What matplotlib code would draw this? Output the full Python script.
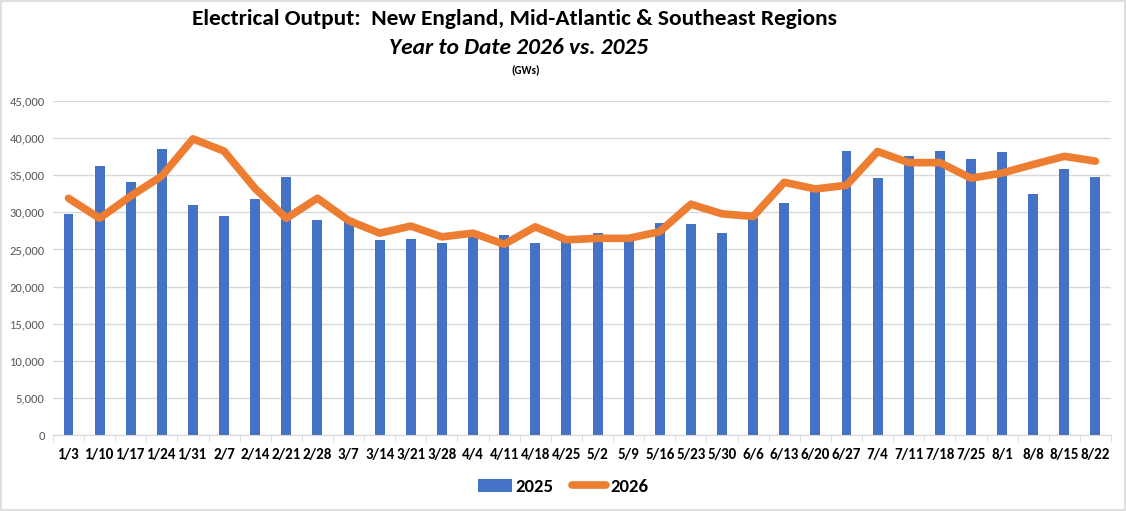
import matplotlib
matplotlib.use("Agg")
import matplotlib.pyplot as plt
from matplotlib.ticker import FuncFormatter, MultipleLocator
from matplotlib.patches import Rectangle
from matplotlib import font_manager
import numpy as np

weeks = ["1/3", "1/10", "1/17", "1/24", "1/31", "2/7", "2/14", "2/21", "2/28", "3/7",
         "3/14", "3/21", "3/28", "4/4", "4/11", "4/18", "4/25", "5/2", "5/9", "5/16",
         "5/23", "5/30", "6/6", "6/13", "6/20", "6/27", "7/4", "7/11", "7/18", "7/25",
         "8/1", "8/8", "8/15", "8/22"]

output_2025 = [29800, 36250, 34100, 38550, 31000, 29500, 31800, 34750, 28950, 29250,
               26300, 26400, 25900, 26700, 26950, 25900, 26200, 27200, 26400, 28550,
               28450, 27200, 29300, 31250, 33000, 38250, 34650, 37600, 38250, 37200,
               38150, 32450, 35850, 34750]

output_2026 = [31900, 29200, 32200, 34900, 39900, 38250, 33200, 29200, 31900, 28900,
               27200, 28150, 26700, 27200, 25700, 28050, 26300, 26500, 26500, 27400,
               31100, 29800, 29450, 34050, 33150, 33650, 38200, 36700, 36700, 34600,
               35300, 36450, 37550, 36900]

# pick a narrow, Calibri-like face if one is installed
names = {f.name for f in font_manager.fontManager.ttflist}
narrow = None
for cand in ["Carlito", "Liberation Sans Narrow", "Roboto Condensed",
             "Open Sans Condensed", "DejaVu Sans Condensed"]:
    if cand in names:
        narrow = cand
        break
if narrow is None:
    narrow = "Lato" if "Lato" in names else "DejaVu Sans"
FONT = [narrow, "DejaVu Sans"]

fig = plt.figure(figsize=(11.26, 5.11), dpi=100)
ax = fig.add_axes([0.047, 0.1487, 0.9397, 0.6536])

x = np.arange(len(weeks))
bars = ax.bar(x, output_2025, width=0.32, color="#4472C4", label="2025", zorder=2)
line, = ax.plot(x, output_2026, color="#ED7D31", linewidth=5.5, solid_capstyle="round",
                solid_joinstyle="round", label="2026", zorder=3)

ax.set_xlim(-0.5, len(weeks) - 0.5)
ax.set_ylim(0, 45000)
ax.yaxis.set_major_locator(MultipleLocator(5000))
ax.yaxis.set_major_formatter(FuncFormatter(lambda v, p: f"{int(v):,}"))
ax.grid(axis="y", color="#D9D9D9", linewidth=1, zorder=0)
ax.set_axisbelow(True)

for s in ["top", "right", "left"]:
    ax.spines[s].set_visible(False)
ax.spines["bottom"].set_color("#D9D9D9")

ax.set_xticks(x)
ax.set_xticklabels(weeks, fontweight="bold", fontsize=10.8, family=FONT, color="black")
ax.set_xticks(np.arange(len(weeks) + 1) - 0.5, minor=True)
ax.tick_params(axis="x", which="major", length=0, pad=9)
ax.tick_params(axis="x", which="minor", length=5, color="#D9D9D9")
ax.tick_params(axis="y", length=0, labelsize=9, labelcolor="#595959", pad=6)
for lab in ax.get_yticklabels():
    lab.set_family(FONT)

fig.text(0.457, 0.963, "Electrical Output:  New England, Mid-Atlantic & Southeast Regions",
         ha="center", va="center", fontsize=16.8, fontweight="bold", family=FONT)
fig.text(0.461, 0.907, "Year to Date 2026 vs. 2025", ha="center", va="center",
         fontsize=16.8, fontweight="bold", fontstyle="italic", family=FONT)
fig.text(0.467, 0.863, "(GWs)", ha="center", va="center", fontsize=8,
         fontweight="bold", family=FONT)

fig.legend([bars, line], ["2025", "2026"], loc="center", bbox_to_anchor=(0.5, 0.047),
           ncol=2, frameon=False, prop={"family": FONT, "weight": "bold", "size": 13.5},
           handlelength=1.8, handletextpad=0.2, columnspacing=1.0)

fig.patches.append(Rectangle((0.0005, 0.001), 0.999, 0.998, transform=fig.transFigure,
                             fill=False, edgecolor="#D9D9D9", linewidth=1.2))

fig.savefig("out.png", dpi=100)
